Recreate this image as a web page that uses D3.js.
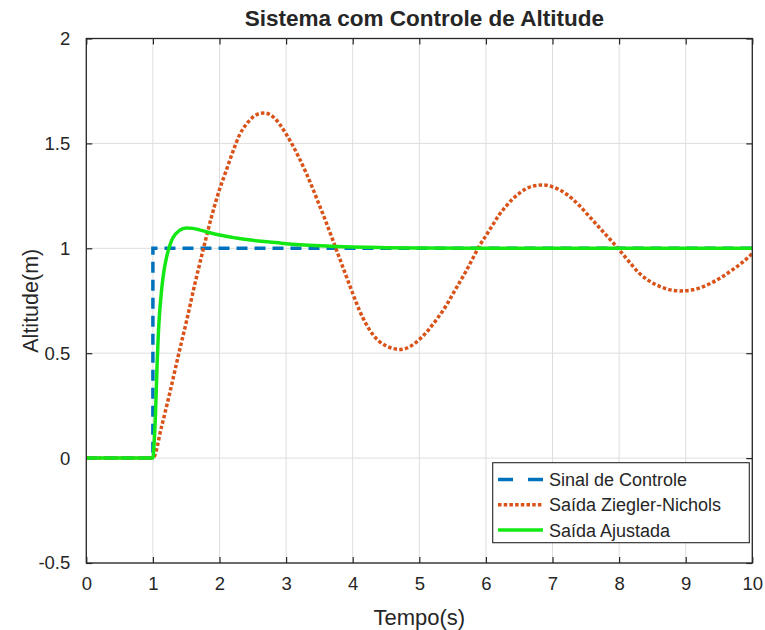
<!DOCTYPE html>
<html><head><meta charset="utf-8">
<script src="https://cdn.jsdelivr.net/npm/d3@7"></script>
<style>
html,body{margin:0;padding:0;background:#fff;}
text{font-family:"Liberation Sans",Arial,Helvetica,sans-serif;fill:#262626;}
</style></head>
<body><svg id="chart" width="765" height="630"></svg>
<script>
const title = "Sistema com Controle de Altitude";
const xLabel = "Tempo(s)";
const yLabel = "Altitude(m)";
const xTicks = [0,1,2,3,4,5,6,7,8,9,10];
const yTicks = [-0.5,0,0.5,1,1.5,2];
const yTickLabels = ["-0.5","0","0.5","1","1.5","2"];
const seriesNames = ["Sinal de Controle","Saída Ziegler-Nichols","Saída Ajustada"];

// Sinal de Controle (step)
const controlT = [0,1,1,10];
const controlY = [0,0,1,1];

// Saída Ziegler-Nichols
const znT = [0,1.0,1.13,1.26,1.39,1.51,1.63,1.76,1.88,2.0,2.1,2.2,2.3,2.4,2.5,2.6,2.68,2.8,2.9,3.0,3.1,3.2,3.3,3.4,3.5,3.6,3.7,3.8,3.9,4.0,4.1,4.2,4.3,4.4,4.5,4.6,4.72,4.85,5.0,5.1,5.2,5.3,5.4,5.5,5.6,5.7,5.8,5.9,6.0,6.1,6.2,6.3,6.4,6.5,6.6,6.7,6.85,7.0,7.1,7.2,7.3,7.4,7.5,7.6,7.7,7.8,7.9,8.0,8.1,8.2,8.3,8.4,8.5,8.6,8.7,8.8,8.92,9.0,9.1,9.2,9.3,9.4,9.5,9.6,9.7,9.8,9.9,10.0];
const znY = [0,0,0.15,0.32,0.5,0.66,0.83,1.0,1.15,1.28,1.37,1.46,1.54,1.59,1.625,1.642,1.645,1.628,1.593,1.545,1.49,1.428,1.36,1.285,1.205,1.125,1.04,0.955,0.87,0.785,0.705,0.64,0.59,0.556,0.535,0.523,0.518,0.53,0.565,0.597,0.636,0.678,0.725,0.78,0.835,0.89,0.95,1.01,1.06,1.11,1.16,1.2,1.235,1.262,1.283,1.296,1.302,1.293,1.28,1.26,1.235,1.205,1.17,1.135,1.1,1.065,1.03,0.993,0.955,0.917,0.882,0.856,0.835,0.82,0.808,0.8,0.797,0.798,0.802,0.81,0.822,0.837,0.855,0.875,0.897,0.92,0.946,0.975];

// Saída Ajustada
const ajT = [0,1.0,1.02,1.04,1.06,1.08,1.1,1.13,1.16,1.2,1.25,1.3,1.4,1.5,1.6,1.7,1.8,2.0,2.25,2.5,2.75,3.0,3.5,4.0,4.5,5.0,6.0,10.0];
const ajY = [0,0,0.08,0.22,0.42,0.58,0.69,0.8,0.88,0.95,1.01,1.05,1.085,1.097,1.095,1.088,1.079,1.063,1.049,1.038,1.03,1.022,1.012,1.006,1.003,1.001,1.0,1.0];

const colors = ["#0072BD","#D95319","#14e814"];

const svg = d3.select("#chart");
const L = 86.3, R = 752.3, T = 38.5, B = 563;
const x = d3.scaleLinear().domain([0,10]).range([L,R]);
const y = d3.scaleLinear().domain([-0.5,2]).range([B,T]);
const axisColor = "#262626";

// grid
const g = svg.append("g");
g.selectAll(".gx").data(xTicks).join("line")
  .attr("x1",d=>x(d)).attr("x2",d=>x(d)).attr("y1",T).attr("y2",B)
  .attr("stroke","#dedede").attr("stroke-width",1);
g.selectAll(".gy").data(yTicks).join("line")
  .attr("x1",L).attr("x2",R).attr("y1",d=>y(d)).attr("y2",d=>y(d))
  .attr("stroke","#dedede").attr("stroke-width",1);

// axes with inward ticks
const tl = 6;
const axB = svg.append("g").attr("transform",`translate(0,${B})`)
  .call(d3.axisBottom(x).tickValues(xTicks).tickSizeInner(-tl).tickSizeOuter(0).tickPadding(14).tickFormat(d3.format("d")));
const axT = svg.append("g").attr("transform",`translate(0,${T})`)
  .call(d3.axisTop(x).tickValues(xTicks).tickSizeInner(-tl).tickSizeOuter(0).tickFormat(""));
const axL = svg.append("g").attr("transform",`translate(${L},0)`)
  .call(d3.axisLeft(y).tickValues(yTicks).tickSizeInner(-tl).tickSizeOuter(0).tickPadding(16).tickFormat((d,i)=>yTickLabels[i]));
const axR = svg.append("g").attr("transform",`translate(${R},0)`)
  .call(d3.axisRight(y).tickValues(yTicks).tickSizeInner(-tl).tickSizeOuter(0).tickFormat(""));
[axB,axT,axL,axR].forEach(a=>{
  a.select(".domain").remove();
  a.selectAll(".tick line").attr("stroke",axisColor).attr("stroke-width",1.2);
  a.selectAll("text").style("font-size","18.5px").style("font-family","'Liberation Sans',Arial,sans-serif").attr("fill",axisColor);
});

// lines
const line = d3.line().curve(d3.curveMonotoneX);
const lineLin = d3.line();
svg.append("clipPath").attr("id","clip").append("rect").attr("x",L).attr("y",T).attr("width",R-L).attr("height",B-T);
const plot = svg.append("g").attr("clip-path","url(#clip)");

plot.append("path").datum(controlT.map((t,i)=>[x(t),y(controlY[i])]))
  .attr("d",lineLin).attr("fill","none").attr("stroke",colors[0]).attr("stroke-width",3.5)
  .attr("stroke-dasharray","11,7");
plot.append("path").datum(znT.map((t,i)=>[x(t),y(znY[i])]))
  .attr("d",line).attr("fill","none").attr("stroke",colors[1]).attr("stroke-width",3.5)
  .attr("stroke-dasharray","3.5,2.2");
plot.append("path").datum(ajT.map((t,i)=>[x(t),y(ajY[i])]))
  .attr("d",line).attr("fill","none").attr("stroke",colors[2]).attr("stroke-width",3.5);

// box
svg.append("rect").attr("x",L).attr("y",T).attr("width",R-L).attr("height",B-T)
  .attr("fill","none").attr("stroke",axisColor).attr("stroke-width",1.3);

// title & labels
svg.append("text").attr("x",(L+R)/2 + 5).attr("y",26).attr("text-anchor","middle")
  .style("font-size","22.5px").style("font-weight","bold").text(title);
svg.append("text").attr("x",(L+R)/2).attr("y",625).attr("text-anchor","middle")
  .style("font-size","22px").text(xLabel);
svg.append("text").attr("transform",`translate(38,${(T+B)/2}) rotate(-90)`).attr("text-anchor","middle")
  .style("font-size","21.5px").text(yLabel);

// legend
const lg = svg.append("g");
lg.append("rect").attr("x",492.7).attr("y",462.7).attr("width",256.6).attr("height",80)
  .attr("fill","#fff").attr("stroke",axisColor).attr("stroke-width",1.1);
const dashes = ["15,15","3.5,2.2",null];
seriesNames.forEach((n,i)=>{
  const yy = 479.5 + i*25.3;
  const l = lg.append("line").attr("x1",498).attr("x2",543).attr("y1",yy).attr("y2",yy)
    .attr("stroke",colors[i]).attr("stroke-width",3.5);
  if(dashes[i]) l.attr("stroke-dasharray", dashes[i]);
  lg.append("text").attr("x",549).attr("y",yy+6.5).style("font-size","18px").text(n);
});
</script>
</body></html>
